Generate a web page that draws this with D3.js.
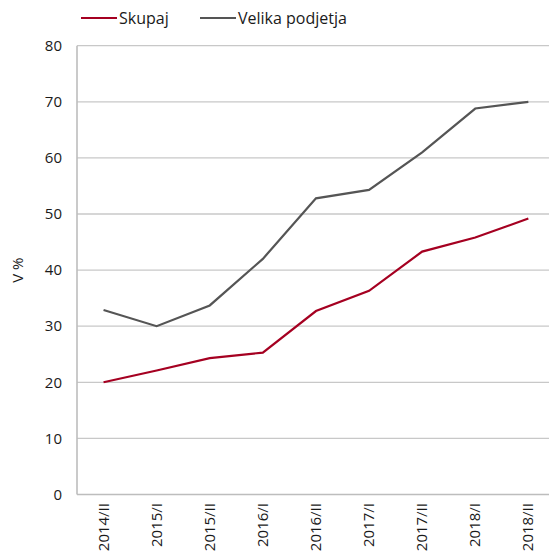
<!DOCTYPE html>
<html>
<head>
<meta charset="utf-8">
<script src="https://cdn.jsdelivr.net/npm/d3@7"></script>
<style>
  body { margin: 0; background: #fff; }
  svg { font-family: "Open Sans", "Noto Sans", sans-serif; }
</style>
</head>
<body>
<div id="wrapper"></div>
<script>
const categories = ["2014/II", "2015/I", "2015/II", "2016/I", "2016/II", "2017/I", "2017/II", "2018/I", "2018/II"]
const skupaj = [20.0, 22.1, 24.3, 25.3, 32.7, 36.3, 43.3, 45.8, 49.2]
const velika = [32.9, 30.0, 33.7, 42.0, 52.8, 54.3, 61.0, 68.8, 70.0]
const yTicks = [0, 10, 20, 30, 40, 50, 60, 70, 80]
const seriesNames = ["Skupaj", "Velika podjetja"]
const seriesColors = ["#a50021", "#555555"]

const width = 549, height = 551
const margin = { top: 46, left: 77, bottom: 57 }

const svg = d3.select("#wrapper").append("svg")
    .attr("width", width)
    .attr("height", height)

const xScale = d3.scaleBand()
    .domain(categories)
    .range([margin.left, margin.left + 9 * 53.1])
const xPos = d => xScale(d) + xScale.bandwidth() / 2

const yScale = d3.scaleLinear()
    .domain([0, 80])
    .range([height - margin.bottom + 0.5, margin.top - 0.3])

// gridlines
svg.append("g")
  .selectAll("line")
  .data(yTicks.slice(1))
  .join("line")
    .attr("x1", margin.left)
    .attr("x2", width)
    .attr("y1", d => yScale(d))
    .attr("y2", d => yScale(d))
    .attr("stroke", "#c8c8c8")
    .attr("stroke-width", 1.3)

// axes lines
svg.append("line")
    .attr("x1", margin.left).attr("x2", margin.left)
    .attr("y1", yScale(80)).attr("y2", yScale(0))
    .attr("stroke", "#bdbdbd").attr("stroke-width", 1.6)
svg.append("line")
    .attr("x1", margin.left).attr("x2", width)
    .attr("y1", yScale(0)).attr("y2", yScale(0))
    .attr("stroke", "#bdbdbd").attr("stroke-width", 1.6)

// y tick labels
svg.append("g")
  .selectAll("text")
  .data(yTicks)
  .join("text")
    .attr("x", 62)
    .attr("y", d => yScale(d))
    .attr("dy", "0.35em")
    .attr("text-anchor", "end")
    .attr("font-size", 15)
    .attr("fill", "#1a1a1a")
    .text(d => d)

svg.append("text")
    .attr("transform", `translate(23, ${yScale(40)}) rotate(-90)`)
    .attr("text-anchor", "middle")
    .attr("font-size", 15)
    .attr("fill", "#1a1a1a")
    .text("V %")

// x tick labels
svg.append("g")
  .selectAll("text")
  .data(categories)
  .join("text")
    .attr("transform", d => `translate(${xPos(d) + 5}, 503) rotate(-90)`)
    .attr("text-anchor", "end")
    .attr("font-size", 15)
    .attr("fill", "#1a1a1a")
    .text(d => d)

// lines
const lineGen = d3.line()
    .x((d, i) => xPos(categories[i]))
    .y(d => yScale(d))

;[skupaj, velika].forEach((s, i) => {
  svg.append("path")
      .attr("d", lineGen(s))
      .attr("fill", "none")
      .attr("stroke", seriesColors[i])
      .attr("stroke-width", 2.2)
})

// legend
const legendX = [81, 200]
seriesNames.forEach((name, i) => {
  svg.append("line")
      .attr("x1", legendX[i]).attr("x2", legendX[i] + 36)
      .attr("y1", 18).attr("y2", 18)
      .attr("stroke", seriesColors[i])
      .attr("stroke-width", 2.2)
  svg.append("text")
      .attr("x", legendX[i] + 38)
      .attr("y", 18)
      .attr("dy", "0.35em")
      .attr("font-size", 16)
      .attr("fill", "#1a1a1a")
      .text(name)
})
</script>
</body>
</html>
